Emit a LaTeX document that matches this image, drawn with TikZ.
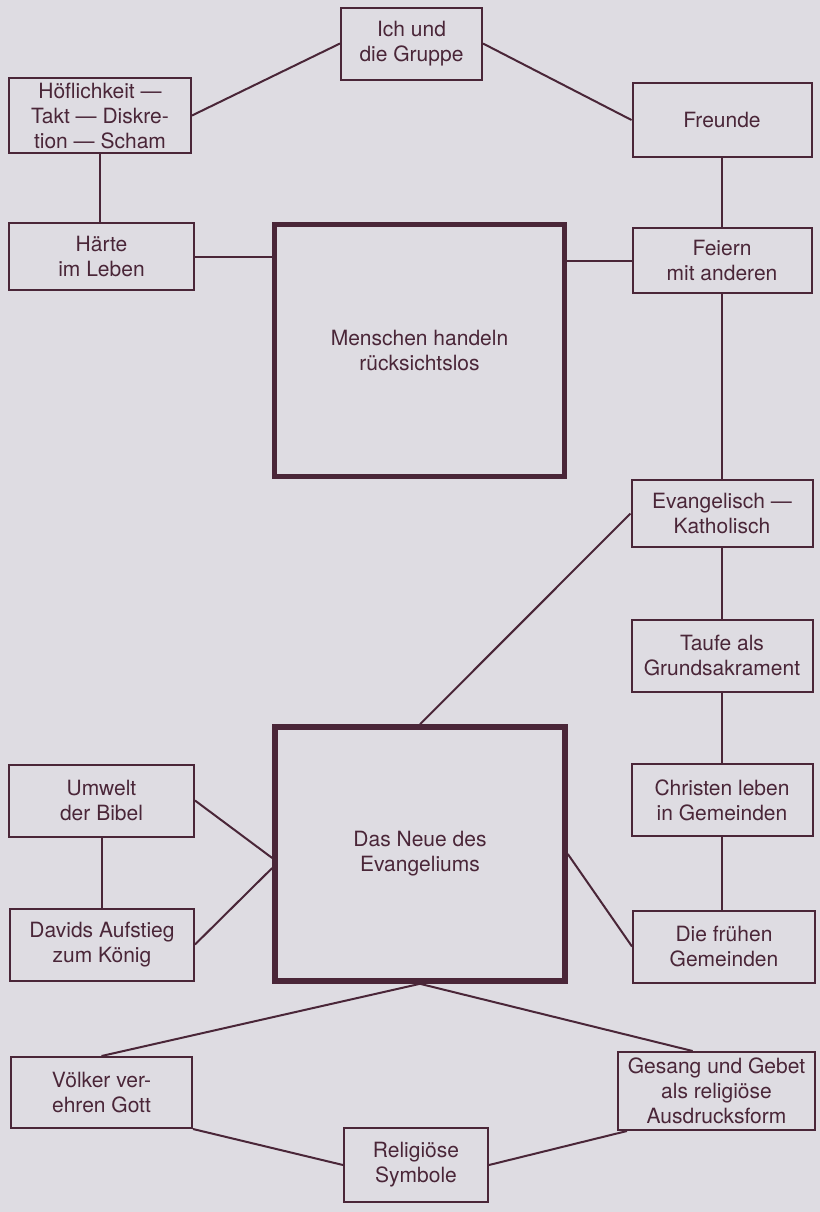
\documentclass[tikz,border=0pt]{standalone}
\usepackage{fontspec}
\setsansfont{TeX Gyre Heros}
\usepackage{xcolor}
\usepackage{tikz}
\usetikzlibrary{calc}
\definecolor{pagegray}{RGB}{222,220,226}
\definecolor{inkmaroon}{RGB}{74,38,56}

\begin{document}
\begin{tikzpicture}[x=0.5pt, y=-0.5pt,
 topicbox/.style={draw=inkmaroon, line width=1pt, minimum width=91pt,
          minimum height=36pt, align=center, inner sep=1pt,
          font=\sffamily\fontsize{10.5}{12.5}\selectfont, text=inkmaroon},
 themebox/.style={topicbox, line width=2.8pt, minimum width=145pt,
          minimum height=127pt},
 link/.style={draw=inkmaroon, line width=1pt}
]
\fill[pagegray] (0,0) rectangle (820,1212);
\useasboundingbox (0,0) rectangle (820,1212);
% Upper theme with its ring of topics
\node[themebox, minimum height=126pt] (menschen) at (419.5,350.5) {Menschen handeln\\rücksichtslos};
\node[topicbox, minimum width=70.5pt] (ich) at (411.5,43.5) {Ich und\\die Gruppe};
\node[topicbox, minimum height=37.5pt] (hoefl) at (100,115.5) {Höflichkeit —\\Takt — Diskre-\\tion — Scham};
\node[topicbox, minimum width=92.5pt, minimum height=33.5pt] (haerte) at (101.5,256.5) {Härte\\im Leben};
\node[topicbox, minimum width=89.5pt, minimum height=37pt] (freunde) at (722,120) {Freunde};
\node[topicbox, minimum width=89.5pt, minimum height=32.5pt] (feiern) at (722,260.5) {Feiern\\mit anderen};
\draw[link] (ich.west) -- (hoefl.east);
\draw[link] (ich.east) -- (freunde.west);
\draw[link] (hoefl.south) -- (hoefl.south |- haerte.north);
\draw[link] (haerte.east) -- (haerte.east -| menschen.west);
\draw[link] (freunde.south) -- (feiern.north);
\draw[link] (feiern.west -| menschen.east) -- (feiern.west);
% Right column down to the early communities
\node[topicbox, minimum width=90.5pt, minimum height=33.5pt] (evang) at (722,513.5) {Evangelisch —\\Katholisch};
\node[topicbox, minimum width=90.5pt] (taufe) at (722,655.5) {Taufe als\\Grundsakrament};
\node[topicbox, minimum width=90.5pt] (christen) at (722,800) {Christen leben\\in Gemeinden};
\node[topicbox] (fruehen) at (724,946.5) {Die frühen\\Gemeinden};
\draw[link] (feiern.south) -- (evang.north);
\draw[link] (evang.south) -- (taufe.north);
\draw[link] (taufe.south) -- (christen.north);
\draw[link] (christen.south) -- (christen.south |- fruehen.north);
% Lower theme with its ring of topics
\node[themebox] (neue) at (420,854) {Das Neue des\\Evangeliums};
\node[topicbox, minimum width=92.5pt] (umwelt) at (101.5,800.5) {Umwelt\\der Bibel};
\node[topicbox, minimum width=92pt] (davids) at (102,944.5) {Davids Aufstieg\\zum König};
\node[topicbox, minimum width=90.5pt, minimum height=35.5pt] (voelker) at (101.5,1092.5) {Völker ver-\\ehren Gott};
\node[topicbox, minimum width=72pt, minimum height=37pt] (symbole) at (416,1165) {Religiöse\\Symbole};
\node[topicbox, minimum width=98.5pt, minimum height=39pt] (gesang) at (716.5,1091) {Gesang und Gebet\\als religiöse\\Ausdrucksform};
\draw[link] (evang.west) -- (neue.north);
\draw[link] (neue.east) -- (fruehen.west);
\draw[link] (umwelt.south) -- (umwelt.south |- davids.north);
\draw[link] (umwelt.east) -- ([yshift=-2pt]neue.west);
\draw[link] (davids.east) -- ([yshift=-7pt]neue.west);
\draw[link] (neue.south) -- (voelker.north);
\draw[link] (neue.south) -- ($(gesang.north west)!0.38!(gesang.north east)$);
\draw[link] (voelker.south east) -- (symbole.west);
\draw[link] (symbole.east) -- ($(gesang.south west)!0.05!(gesang.south east)$);
\end{tikzpicture}
\end{document}
